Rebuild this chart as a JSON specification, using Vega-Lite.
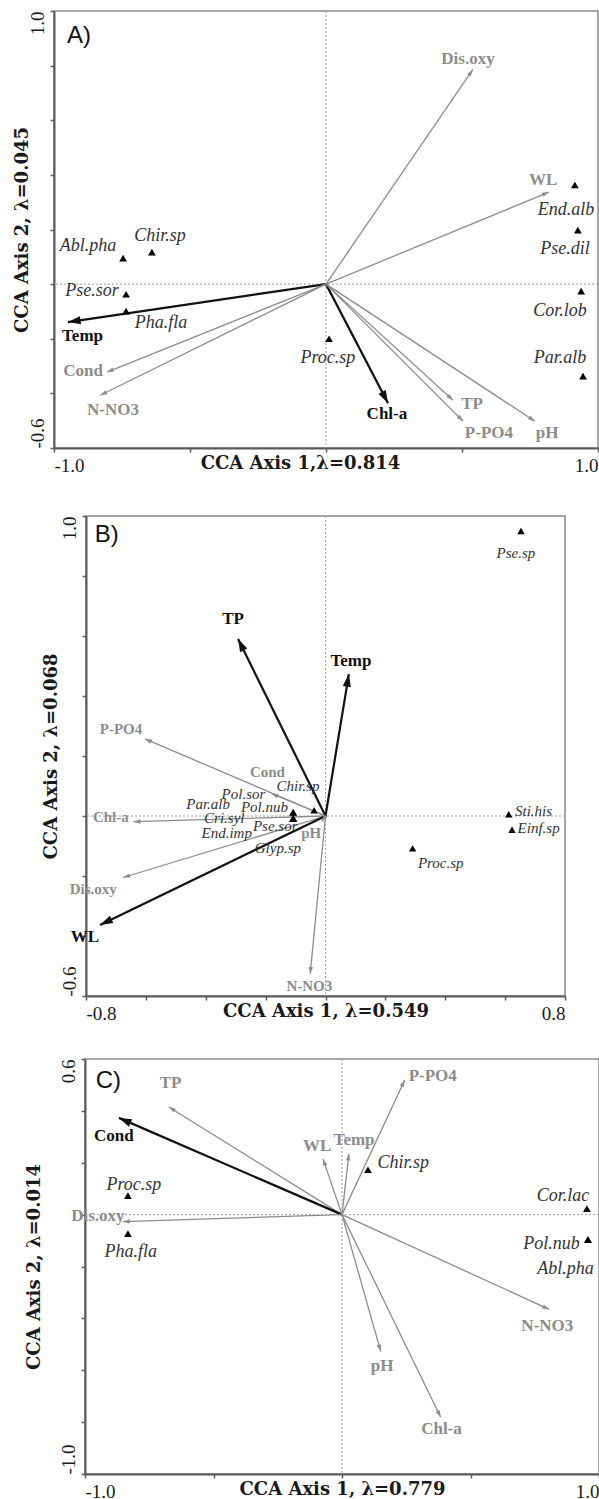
{
  "$schema": "https://vega.github.io/schema/vega-lite/v6.json",
  "background": "white",
  "padding": {"left": 0, "top": 9, "right": 0, "bottom": 0},
  "datasets": {
    "Aenv": [
      {"name": "Dis.oxy", "x": 0.54, "y": 0.786, "lx": 0.522, "ly": 0.824, "sig": "n"},
      {"name": "WL", "x": 0.82, "y": 0.337, "lx": 0.798, "ly": 0.381, "sig": "n"},
      {"name": "Temp", "x": -0.949, "y": -0.139, "lx": -0.895, "ly": -0.19, "sig": "y"},
      {"name": "Cond", "x": -0.805, "y": -0.322, "lx": -0.893, "ly": -0.319, "sig": "n"},
      {"name": "N-NO3", "x": -0.83, "y": -0.407, "lx": -0.783, "ly": -0.462, "sig": "n"},
      {"name": "Chl-a", "x": 0.228, "y": -0.436, "lx": 0.224, "ly": -0.476, "sig": "y"},
      {"name": "TP", "x": 0.467, "y": -0.425, "lx": 0.537, "ly": -0.44, "sig": "n"},
      {"name": "P-PO4", "x": 0.504, "y": -0.502, "lx": 0.599, "ly": -0.546, "sig": "n"},
      {"name": "pH", "x": 0.768, "y": -0.502, "lx": 0.813, "ly": -0.546, "sig": "n"}
    ],
    "Asp": [
      {"name": "Abl.pha", "x": -0.746, "y": 0.095, "lx": -0.875, "ly": 0.139},
      {"name": "Chir.sp", "x": -0.64, "y": 0.117, "lx": -0.61, "ly": 0.176},
      {"name": "Pse.sor", "x": -0.735, "y": -0.037, "lx": -0.86, "ly": -0.026},
      {"name": "Pha.fla", "x": -0.735, "y": -0.099, "lx": -0.607, "ly": -0.143},
      {"name": "Proc.sp", "x": 0.011, "y": -0.2, "lx": 0.007, "ly": -0.271},
      {"name": "End.alb", "x": 0.915, "y": 0.363, "lx": 0.882, "ly": 0.271},
      {"name": "Pse.dil", "x": 0.926, "y": 0.198, "lx": 0.879, "ly": 0.128},
      {"name": "Cor.lob", "x": 0.938, "y": -0.026, "lx": 0.86, "ly": -0.099},
      {"name": "Par.alb", "x": 0.945, "y": -0.337, "lx": 0.86, "ly": -0.271}
    ],
    "Benv": [
      {"name": "TP", "x": -0.292, "y": 0.59, "lx": -0.309, "ly": 0.657, "sig": "y"},
      {"name": "Temp", "x": 0.078, "y": 0.473, "lx": 0.085, "ly": 0.517, "sig": "y"},
      {"name": "P-PO4", "x": -0.603, "y": 0.257, "lx": -0.683, "ly": 0.29, "sig": "n"},
      {"name": "Cond", "x": -0.181, "y": 0.075, "lx": -0.194, "ly": 0.146, "sig": "n"},
      {"name": "Chl-a", "x": -0.641, "y": -0.019, "lx": -0.717, "ly": -0.002, "sig": "n"},
      {"name": "Dis.oxy", "x": -0.676, "y": -0.205, "lx": -0.776, "ly": -0.244, "sig": "n"},
      {"name": "WL", "x": -0.753, "y": -0.363, "lx": -0.804, "ly": -0.404, "sig": "y"},
      {"name": "N-NO3", "x": -0.051, "y": -0.526, "lx": -0.054, "ly": -0.567, "sig": "n"},
      {"name": "pH", "x": -0.012, "y": -0.018, "lx": -0.048, "ly": -0.055, "sig": "n"}
    ],
    "Bsp": [
      {"name": "Pse.sp", "x": 0.653, "y": 0.95, "lx": 0.636, "ly": 0.877},
      {"name": "Sti.his", "x": 0.612, "y": 0.006, "lx": 0.695, "ly": 0.017},
      {"name": "Einf.sp", "x": 0.623, "y": -0.046, "lx": 0.712, "ly": -0.039},
      {"name": "Proc.sp", "x": 0.291, "y": -0.108, "lx": 0.385, "ly": -0.157},
      {"name": "Chir.sp", "x": -0.038, "y": 0.019, "lx": -0.092, "ly": 0.1},
      {"name": "Pol.sor", "x": -0.108, "y": 0.012, "lx": -0.274, "ly": 0.075},
      {"name": "Par.alb", "x": -0.108, "y": 0.012, "lx": -0.392, "ly": 0.041},
      {"name": "Pol.nub", "x": -0.108, "y": 0.012, "lx": -0.204, "ly": 0.031},
      {"name": "Cri.syl", "x": -0.108, "y": -0.008, "lx": -0.338, "ly": -0.006},
      {"name": "Pse.sor", "x": -0.108, "y": -0.008, "lx": -0.168, "ly": -0.033},
      {"name": "End.imp", "x": -0.108, "y": -0.008, "lx": -0.33, "ly": -0.056},
      {"name": "Glyp.sp", "x": -0.108, "y": -0.008, "lx": -0.159, "ly": -0.105}
    ],
    "Cenv": [
      {"name": "TP", "x": -0.674, "y": 0.415, "lx": -0.667, "ly": 0.508, "sig": "n"},
      {"name": "Cond", "x": -0.868, "y": 0.373, "lx": -0.888, "ly": 0.304, "sig": "y"},
      {"name": "Dis.oxy", "x": -0.853, "y": -0.027, "lx": -0.95, "ly": -0.004, "sig": "n"},
      {"name": "P-PO4", "x": 0.244, "y": 0.519, "lx": 0.353, "ly": 0.535, "sig": "n"},
      {"name": "WL", "x": -0.074, "y": 0.215, "lx": -0.097, "ly": 0.265, "sig": "n"},
      {"name": "Temp", "x": 0.027, "y": 0.235, "lx": 0.047, "ly": 0.288, "sig": "n"},
      {"name": "N-NO3", "x": 0.806, "y": -0.365, "lx": 0.799, "ly": -0.431, "sig": "n"},
      {"name": "pH", "x": 0.151, "y": -0.528, "lx": 0.156, "ly": -0.585, "sig": "n"},
      {"name": "Chl-a", "x": 0.384, "y": -0.781, "lx": 0.387, "ly": -0.826, "sig": "n"}
    ],
    "Csp": [
      {"name": "Proc.sp", "x": -0.833, "y": 0.073, "lx": -0.81, "ly": 0.115},
      {"name": "Pha.fla", "x": -0.833, "y": -0.073, "lx": -0.822, "ly": -0.146},
      {"name": "Chir.sp", "x": 0.101, "y": 0.173, "lx": 0.238, "ly": 0.2},
      {"name": "Cor.lac", "x": 0.953, "y": 0.023, "lx": 0.86, "ly": 0.073},
      {"name": "Pol.nub", "x": 0.957, "y": -0.096, "lx": 0.815, "ly": -0.115},
      {"name": "Abl.pha", "x": 0.957, "y": -0.096, "lx": 0.87, "ly": -0.21}
    ]
  },
  "concat": [
    {
      "hconcat": [
        {"width": 12, "height": 503, "data": {"values": []}, "mark": "point", "view": {"stroke": null}},
        {
          "width": 544, "height": 437,
          "layer": [
            {"data": {"values": [{}]}, "mark": {"type": "rule", "color": "#a0a0a0", "strokeDash": [2, 2], "strokeWidth": 1},
             "encoding": {"x": {"datum": 0, "type": "quantitative", "scale": {"domain": [-1, 1], "nice": false, "zero": false},
               "axis": {"title": "CCA Axis 1,λ=0.814", "titleX": 246, "values": [-1, -0.5, 0, 0.5, 1],
                 "labelExpr": "datum.value == -1 ? '-1.0' : datum.value == 1 ? '1.0' : ''"}}}},
            {"data": {"values": [{}]}, "mark": {"type": "rule", "color": "#a0a0a0", "strokeDash": [2, 2], "strokeWidth": 1},
             "encoding": {"y": {"datum": 0, "type": "quantitative", "scale": {"domain": [-0.6, 1], "nice": false, "zero": false},
               "axis": {"title": "CCA Axis 2, λ=0.045", "titlePadding": 3, "values": [-0.6, -0.4, -0.2, 0, 0.2, 0.4, 0.6, 0.8, 1],
                 "labelExpr": "datum.value == 1 ? '1.0' : datum.value == -0.6 ? '-0.6' : ''",
                 "labelAlign": {"condition": {"test": "datum.value > 0", "value": "right"}, "value": "left"}}}}},
            {"data": {"name": "Aenv"}, "mark": {"type": "rule"},
             "encoding": {"x": {"field": "x", "type": "quantitative"}, "y": {"field": "y", "type": "quantitative"},
               "x2": {"datum": 0}, "y2": {"datum": 0},
               "color": {"field": "sig", "type": "nominal", "scale": {"domain": ["y", "n"], "range": ["#111111", "#8c8c8c"]}, "legend": null},
               "strokeWidth": {"field": "sig", "type": "ordinal", "scale": {"domain": ["y", "n"], "range": [2.2, 1.3]}, "legend": null}}},
            {"data": {"name": "Aenv"}, "transform": [{"calculate": "atan2(datum.x, datum.y) * 180 / PI", "as": "ang"}],
             "mark": {"type": "point", "shape": "M0,0L0.32,1L-0.32,1Z", "filled": true, "opacity": 1},
             "encoding": {"x": {"field": "x", "type": "quantitative"}, "y": {"field": "y", "type": "quantitative"},
               "angle": {"field": "ang", "type": "quantitative", "scale": null},
               "color": {"field": "sig", "type": "nominal", "scale": {"domain": ["y", "n"], "range": ["#111111", "#8c8c8c"]}, "legend": null},
               "size": {"field": "sig", "type": "ordinal", "scale": {"domain": ["y", "n"], "range": [650, 190]}, "legend": null}}},
            {"data": {"name": "Aenv"}, "mark": {"type": "text", "font": "Liberation Serif", "fontWeight": "bold", "fontSize": 17, "align": "center", "baseline": "middle"},
             "encoding": {"x": {"field": "lx", "type": "quantitative"}, "y": {"field": "ly", "type": "quantitative"},
               "text": {"field": "name"},
               "color": {"field": "sig", "type": "nominal", "scale": {"domain": ["y", "n"], "range": ["#111111", "#8c8c8c"]}, "legend": null}}},
            {"data": {"name": "Asp"}, "mark": {"type": "point", "shape": "triangle-up", "filled": true, "color": "#000000", "size": 60, "opacity": 1},
             "encoding": {"x": {"field": "x", "type": "quantitative"}, "y": {"field": "y", "type": "quantitative"}}},
            {"data": {"name": "Asp"}, "mark": {"type": "text", "font": "Liberation Serif", "fontStyle": "italic", "fontSize": 18, "color": "#333333", "align": "center", "baseline": "middle"},
             "encoding": {"x": {"field": "lx", "type": "quantitative"}, "y": {"field": "ly", "type": "quantitative"}, "text": {"field": "name"}}},
            {"data": {"values": [{"t": "A)", "x": -0.908, "y": 0.908}]}, "mark": {"type": "text", "font": "Liberation Sans", "fontSize": 24, "color": "#111111", "align": "center", "baseline": "middle"},
             "encoding": {"x": {"field": "x", "type": "quantitative"}, "y": {"field": "y", "type": "quantitative"}, "text": {"field": "t"}}}
          ]
        }
      ],
      "spacing": 0
    },
    {
      "hconcat": [
        {"width": 41, "height": 541, "data": {"values": []}, "mark": "point", "view": {"stroke": null}},
        {
          "width": 479, "height": 480,
          "layer": [
            {"data": {"values": [{}]}, "mark": {"type": "rule", "color": "#a0a0a0", "strokeDash": [2, 2], "strokeWidth": 1},
             "encoding": {"x": {"datum": 0, "type": "quantitative", "scale": {"domain": [-0.8, 0.8], "nice": false, "zero": false},
               "axis": {"title": "CCA Axis 1, λ=0.549", "values": [-0.8, -0.6, -0.4, -0.2, 0, 0.2, 0.4, 0.6, 0.8],
                 "labelExpr": "datum.value == -0.8 ? '-0.8' : datum.value == 0.8 ? '0.8' : ''"}}}},
            {"data": {"values": [{}]}, "mark": {"type": "rule", "color": "#a0a0a0", "strokeDash": [2, 2], "strokeWidth": 1},
             "encoding": {"y": {"datum": 0, "type": "quantitative", "scale": {"domain": [-0.6, 1], "nice": false, "zero": false},
               "axis": {"title": "CCA Axis 2, λ=0.068", "titlePadding": 6, "values": [-0.6, -0.4, -0.2, 0, 0.2, 0.4, 0.6, 0.8, 1],
                 "labelExpr": "datum.value == 1 ? '1.0' : datum.value == -0.6 ? '-0.6' : ''",
                 "labelAlign": {"condition": {"test": "datum.value > 0", "value": "right"}, "value": "left"}}}}},
            {"data": {"name": "Benv"}, "mark": {"type": "rule"},
             "encoding": {"x": {"field": "x", "type": "quantitative"}, "y": {"field": "y", "type": "quantitative"},
               "x2": {"datum": 0}, "y2": {"datum": 0},
               "color": {"field": "sig", "type": "nominal", "scale": {"domain": ["y", "n"], "range": ["#111111", "#8c8c8c"]}, "legend": null},
               "strokeWidth": {"field": "sig", "type": "ordinal", "scale": {"domain": ["y", "n"], "range": [2.2, 1.3]}, "legend": null}}},
            {"data": {"name": "Benv"}, "transform": [{"calculate": "atan2(datum.x, datum.y) * 180 / PI", "as": "ang"}],
             "mark": {"type": "point", "shape": "M0,0L0.32,1L-0.32,1Z", "filled": true, "opacity": 1},
             "encoding": {"x": {"field": "x", "type": "quantitative"}, "y": {"field": "y", "type": "quantitative"},
               "angle": {"field": "ang", "type": "quantitative", "scale": null},
               "color": {"field": "sig", "type": "nominal", "scale": {"domain": ["y", "n"], "range": ["#111111", "#8c8c8c"]}, "legend": null},
               "size": {"field": "sig", "type": "ordinal", "scale": {"domain": ["y", "n"], "range": [650, 190]}, "legend": null}}},
            {"data": {"name": "Benv"}, "transform": [{"filter": "datum.sig == 'n'"}],
             "mark": {"type": "text", "font": "Liberation Serif", "fontWeight": "bold", "fontSize": 15, "color": "#8c8c8c", "align": "center", "baseline": "middle"},
             "encoding": {"x": {"field": "lx", "type": "quantitative"}, "y": {"field": "ly", "type": "quantitative"}, "text": {"field": "name"}}},
            {"data": {"name": "Benv"}, "transform": [{"filter": "datum.sig == 'y'"}],
             "mark": {"type": "text", "font": "Liberation Serif", "fontWeight": "bold", "fontSize": 17, "color": "#111111", "align": "center", "baseline": "middle"},
             "encoding": {"x": {"field": "lx", "type": "quantitative"}, "y": {"field": "ly", "type": "quantitative"}, "text": {"field": "name"}}},
            {"data": {"name": "Bsp"}, "mark": {"type": "point", "shape": "triangle-up", "filled": true, "color": "#000000", "size": 55, "opacity": 1},
             "encoding": {"x": {"field": "x", "type": "quantitative"}, "y": {"field": "y", "type": "quantitative"}}},
            {"data": {"name": "Bsp"}, "mark": {"type": "text", "font": "Liberation Serif", "fontStyle": "italic", "fontSize": 15, "color": "#333333", "align": "center", "baseline": "middle"},
             "encoding": {"x": {"field": "lx", "type": "quantitative"}, "y": {"field": "ly", "type": "quantitative"}, "text": {"field": "name"}}},
            {"data": {"values": [{"t": "B)", "x": -0.731, "y": 0.938}]}, "mark": {"type": "text", "font": "Liberation Sans", "fontSize": 24, "color": "#111111", "align": "center", "baseline": "middle"},
             "encoding": {"x": {"field": "x", "type": "quantitative"}, "y": {"field": "y", "type": "quantitative"}, "text": {"field": "t"}}}
          ]
        }
      ],
      "spacing": 0
    },
    {
      "hconcat": [
        {"width": 24, "height": 1, "data": {"values": []}, "mark": "point", "view": {"stroke": null}},
        {
          "width": 514, "height": 415,
          "layer": [
            {"data": {"values": [{}]}, "mark": {"type": "rule", "color": "#a0a0a0", "strokeDash": [2, 2], "strokeWidth": 1},
             "encoding": {"x": {"datum": 0, "type": "quantitative", "scale": {"domain": [-1, 1], "nice": false, "zero": false},
               "axis": {"title": "CCA Axis 1, λ=0.779", "values": [-1, -0.5, 0, 0.5, 1],
                 "labelExpr": "datum.value == -1 ? '-1.0' : datum.value == 1 ? '1.0' : ''"}}}},
            {"data": {"values": [{}]}, "mark": {"type": "rule", "color": "#a0a0a0", "strokeDash": [2, 2], "strokeWidth": 1},
             "encoding": {"y": {"datum": 0, "type": "quantitative", "scale": {"domain": [-1, 0.6], "nice": false, "zero": false},
               "axis": {"title": "CCA Axis 2, λ=0.014", "titlePadding": 22, "values": [-1, -0.8, -0.6, -0.4, -0.2, 0, 0.2, 0.4, 0.6],
                 "labelExpr": "datum.value == 0.6 ? '0.6' : datum.value == -1 ? '-1.0' : ''",
                 "labelAlign": {"condition": {"test": "datum.value > 0", "value": "right"}, "value": "left"}}}}},
            {"data": {"name": "Cenv"}, "mark": {"type": "rule"},
             "encoding": {"x": {"field": "x", "type": "quantitative"}, "y": {"field": "y", "type": "quantitative"},
               "x2": {"datum": 0}, "y2": {"datum": 0},
               "color": {"field": "sig", "type": "nominal", "scale": {"domain": ["y", "n"], "range": ["#111111", "#8c8c8c"]}, "legend": null},
               "strokeWidth": {"field": "sig", "type": "ordinal", "scale": {"domain": ["y", "n"], "range": [2.2, 1.3]}, "legend": null}}},
            {"data": {"name": "Cenv"}, "transform": [{"calculate": "atan2(datum.x, datum.y) * 180 / PI", "as": "ang"}],
             "mark": {"type": "point", "shape": "M0,0L0.32,1L-0.32,1Z", "filled": true, "opacity": 1},
             "encoding": {"x": {"field": "x", "type": "quantitative"}, "y": {"field": "y", "type": "quantitative"},
               "angle": {"field": "ang", "type": "quantitative", "scale": null},
               "color": {"field": "sig", "type": "nominal", "scale": {"domain": ["y", "n"], "range": ["#111111", "#8c8c8c"]}, "legend": null},
               "size": {"field": "sig", "type": "ordinal", "scale": {"domain": ["y", "n"], "range": [650, 190]}, "legend": null}}},
            {"data": {"name": "Cenv"}, "mark": {"type": "text", "font": "Liberation Serif", "fontWeight": "bold", "fontSize": 17, "align": "center", "baseline": "middle"},
             "encoding": {"x": {"field": "lx", "type": "quantitative"}, "y": {"field": "ly", "type": "quantitative"},
               "text": {"field": "name"},
               "color": {"field": "sig", "type": "nominal", "scale": {"domain": ["y", "n"], "range": ["#111111", "#8c8c8c"]}, "legend": null}}},
            {"data": {"name": "Csp"}, "mark": {"type": "point", "shape": "triangle-up", "filled": true, "color": "#000000", "size": 60, "opacity": 1},
             "encoding": {"x": {"field": "x", "type": "quantitative"}, "y": {"field": "y", "type": "quantitative"}}},
            {"data": {"name": "Csp"}, "mark": {"type": "text", "font": "Liberation Serif", "fontStyle": "italic", "fontSize": 18, "color": "#333333", "align": "center", "baseline": "middle"},
             "encoding": {"x": {"field": "lx", "type": "quantitative"}, "y": {"field": "ly", "type": "quantitative"}, "text": {"field": "name"}}},
            {"data": {"values": [{"t": "C)", "x": -0.909, "y": 0.517}]}, "mark": {"type": "text", "font": "Liberation Sans", "fontSize": 24, "color": "#111111", "align": "center", "baseline": "middle"},
             "encoding": {"x": {"field": "x", "type": "quantitative"}, "y": {"field": "y", "type": "quantitative"}, "text": {"field": "t"}}}
          ]
        }
      ],
      "spacing": 0
    }
  ],
  "columns": 1,
  "align": "none",
  "spacing": 0,
  "config": {
    "view": {"stroke": "#8a8a8a", "strokeWidth": 1.5},
    "axis": {"grid": false, "domainColor": "#5a5a5a", "domainWidth": 2, "tickColor": "#5a5a5a", "tickWidth": 1.5, "tickSize": 4,
      "labelFont": "Liberation Serif", "labelFontSize": 19, "labelColor": "#1a1a1a",
      "titleFont": "DejaVu Serif", "titleFontSize": 18, "titleFontWeight": "bold", "titleColor": "#1a1a1a",
      "labelOverlap": false, "labelBound": false},
    "axisX": {"labelPadding": 4, "labelFlush": true, "minExtent": 0, "maxExtent": 0, "titlePadding": 6},
    "axisY": {"labelPadding": 3, "labelAngle": 270, "labelBaseline": "bottom", "minExtent": 20, "maxExtent": 20}
  }
}
